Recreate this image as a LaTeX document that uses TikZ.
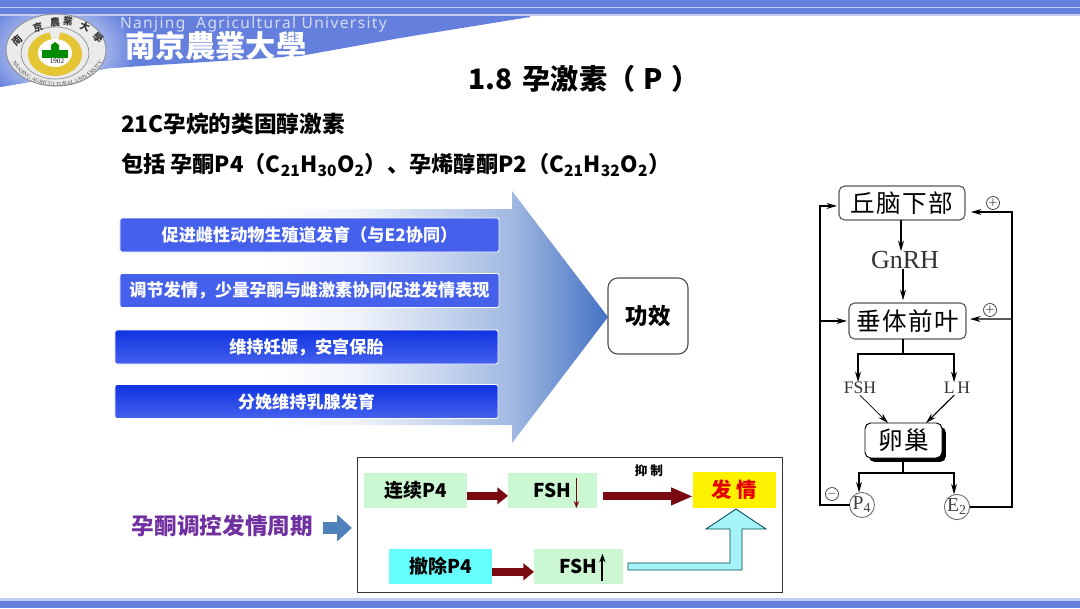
\documentclass[tikz,border=0pt]{standalone}
\usepackage{fontspec}
\setmainfont{Noto Sans CJK SC}
\newfontfamily\serifcn[LetterSpace=6]{Noto Sans CJK SC}
\newfontfamily\timesfont{Liberation Serif}
\newfontfamily\latinhead[LetterSpace=9]{Noto Sans}
\newfontfamily\tccn{Noto Sans CJK TC}
\usepackage{xcolor}
\usepackage{tikz}
\usetikzlibrary{arrows.meta,shadows,decorations.text}
\newcommand{\px}{0.7113pt}
\newcommand{\fsz}[1]{\fontsize{#1}{#1}\selectfont}
\definecolor{bandblue}{HTML}{6480DC}
\definecolor{bandlight}{HTML}{C3CDF2}
\definecolor{bardark}{HTML}{0F33E2}
\definecolor{barmid}{HTML}{4561EC}
\definecolor{fadeblue}{HTML}{4472C4}
\definecolor{palegreen}{HTML}{CBF7D3}
\definecolor{paleaqua}{HTML}{66FFFF}
\definecolor{liftaqua}{HTML}{A5F2F8}
\definecolor{darkred}{HTML}{7A0A12}
\definecolor{ringgray}{HTML}{8A9098}
\definecolor{steelarrow}{HTML}{4F81BD}
\definecolor{labelviolet}{HTML}{7030A0}
\pgfdeclarehorizontalshading{arrowfade}{100bp}{color(0bp)=(white);color(25bp)=(white);color(41bp)=(white);color(50bp)=(fadeblue!8!white);color(58.5bp)=(fadeblue!30!white);color(65.5bp)=(fadeblue!50!white);color(75bp)=(fadeblue);color(100bp)=(fadeblue)}
\tikzset{
  plainbox/.style={inner sep=0pt,outer sep=0pt,align=center},
  barbox/.style={plainbox,draw=white,line width=0.6pt,rounded corners=1.5pt,text=white,font=\fsz{12.2}\bfseries,minimum height=34*\px},
  flatbar/.style={barbox,top color=barmid,bottom color=barmid,minimum width=379*\px},
  deepbar/.style={barbox,top color=bardark,bottom color=barmid,minimum width=383*\px},
  cyclebox/.style={plainbox,font=\fsz{13.5}\bfseries,minimum width=103*\px,minimum height=35.5*\px},
  fshbox/.style={cyclebox,fill=palegreen,minimum width=89*\px},
  axisbox/.style={plainbox,draw=black!65,line width=0.8pt,rounded corners=4pt,font=\serifcn\fsz{17.5}},
  hormone/.style={plainbox,text=black!80,font=\timesfont},
  gland/.style={plainbox,circle,draw=black!60,line width=0.6pt,minimum size=25*\px,text=black!75,font=\timesfont\fsz{14}},
  signmark/.style={plainbox,circle,draw=black!80,line width=0.5pt,minimum size=13*\px,font=\fsz{8}},
  reddart/.style={draw=darkred,line width=5.7pt,-{Triangle[length=#1,width=11.6pt]}},
  axisline/.style={draw=black,line width=0.8pt},
  axisarrow/.style={axisline,-{Stealth[length=7.5pt,width=4.2pt]}}
}
\begin{document}
\begin{tikzpicture}[x=0.025cm,y=-0.025cm,line cap=butt]
\useasboundingbox (0,0) rectangle (1080,608);
\fill[white] (0,0) rectangle (1080,608);
% header
\begin{scope}
\clip (0,87) -- (0,14) -- (530,14) -- (530,17) -- (400,38) -- (300,56) -- (110,68) -- cycle;
\fill[bandblue] (0,0) rectangle (540,90);
\shade[inner color=white,outer color=bandblue] (58,50) ellipse (78 and 58);
\end{scope}
\fill[bandblue] (0,0) rectangle (1080,14);
\fill[bandlight] (0,6.5) rectangle (1080,8);
\fill[bandlight] (0,14) rectangle (1080,16);
\fill[bandlight] (0,598) rectangle (1080,600.5);
\fill[bandblue] (0,600.5) rectangle (1080,608);
% emblem
\fill[white!92!black,draw=ringgray,line width=0.7pt] (56,50) ellipse (50 and 36);
\draw[ringgray,line width=0.5pt] (55,53) ellipse (34 and 26);
\fill[yellow!55!brown] (55,54) ellipse (27 and 22);
\fill[white!92!black] (49,30) -- (61,30) -- (58,40) -- (52,40) -- cycle;
\fill[white] (55,53) ellipse (17 and 14);
\fill[green!55!black] (42,58) rectangle (68,50);
\fill[green!55!black] (51,50) -- (51,45) -- (55,42) -- (59,45) -- (59,50) -- cycle;
\node[plainbox,font=\timesfont\fsz{5}] (emblemyear) at (57,61.5) {1902};
\foreach \cx/\cy/\ca/\ct in {17/40/40/南,38/27/18/京,55/22/4/農,68/21/-6/業,85/27/-20/大,98/38/-40/學}
  \node[plainbox,rotate=\ca,text=black!80,font=\tccn\fsz{7}\bfseries] at (\cx,\cy) {\ct};
\path[decorate,decoration={text along path,text align=center,
  text={|\timesfont\fsz{4.1}\color{black!70}|NANJING AGRICULTURAL UNIVERSITY}}]
  (9,54) .. controls (22,97) and (92,97) .. (106,54);
\node[plainbox,anchor=west,text=bandlight!70!white,font=\latinhead\fsz{11}\bfseries] (nauen) at (120,24) {Nanjing\ \ Agricultural University};
\node[plainbox,anchor=west,text=white,font=\tccn\fsz{21.5}\bfseries] (naucn) at (125,46) {南京農業大學};
% headings
\node[plainbox,anchor=west,font=\fsz{20}\bfseries] (title) at (468,79) {1.8\hspace{3pt} 孕激素（\hspace{6pt}P\hspace{6pt}）};
\node[plainbox,anchor=west,font=\fsz{16.1}\bfseries] (introA) at (121,124) {21C孕烷的类固醇激素};
\node[plainbox,anchor=west,font=\fsz{15.8}\bfseries] (introB) at (121,165) {包括 孕酮P4（C\textsubscript{21}H\textsubscript{30}O\textsubscript{2}）、孕烯醇酮P2（C\textsubscript{21}H\textsubscript{32}O\textsubscript{2}）};
% big arrow and bars
\shade[shading=arrowfade] (100,209) -- (512,209) -- (512,191) -- (608,317) -- (512,443) -- (512,425) -- (100,425) -- cycle;
\node[flatbar] (barA) at (309.5,235) {促进雌性动物生殖道发育（与E2协同）};
\node[flatbar] (barB) at (309.5,290.5) {调节发情，少量孕酮与雌激素协同促进发情表现};
\node[deepbar] (barC) at (306.5,347) {维持妊娠，安宫保胎};
\node[deepbar] (barD) at (306.5,401.5) {分娩维持乳腺发育};
\node[plainbox,draw=black!70,line width=0.8pt,fill=white,rounded corners=7pt,minimum width=80*\px,minimum height=76*\px,font=\fsz{16}\bfseries] (effect) at (648,316) {功效};
% estrus cycle panel
\node[plainbox,draw=black!80,line width=0.7pt,fill=white,minimum width=424*\px,minimum height=135*\px] (panel) at (570,524.5) {};
\node[plainbox,text=labelviolet,font=\fsz{16.1}\bfseries] (cyclelabel) at (222.5,526) {孕酮调控发情周期};
\draw[draw=steelarrow,line width=9.2pt,-{Triangle[length=10.5pt,width=18.5pt]}] ([xshift=7pt,yshift=-1.4pt]cyclelabel.east) -- ([xshift=-4.3pt,yshift=-1.4pt]cyclelabel.east -| panel.west);
\node[cyclebox,fill=palegreen] (keepP) at (415.5,490.5) {连续P4};
\node[fshbox] (fshlow) at (552.5,490.5) {FSH};
\node[cyclebox,fill=yellow,text=red!90!black,minimum width=83*\px,font=\fsz{14.5}\bfseries] (estrus) at (734.5,490) {发 情};
\node[cyclebox,fill=paleaqua] (dropP) at (440.5,566.5) {撤除P4};
\node[fshbox] (fshhigh) at (578.5,566.5) {FSH};
\node[plainbox,font=\fsz{9}\bfseries] (inhibit) at (649,471) {抑 制};
\draw[reddart=7.5pt] ([yshift=-3.8pt]keepP.east) -- ([yshift=-3.8pt]keepP.east -| fshlow.west);
\draw[reddart=15.5pt] ([xshift=4.3pt,yshift=-4.2pt]fshlow.east) -- ([yshift=-4.2pt]fshlow.east -| estrus.west);
\draw[reddart=7.5pt] ([yshift=-3.8pt]dropP.east) -- ([yshift=-3.8pt]dropP.east -| fshhigh.west);
\draw[darkred,line width=1.1pt,-{Stealth[length=5pt,width=3.8pt]}] ([xshift=17pt,yshift=9pt]fshlow.center) -- ([xshift=17pt,yshift=-12.5pt]fshlow.center);
\draw[black,line width=1.3pt,-{Stealth[length=6pt,width=4.4pt]}] ([xshift=17pt,yshift=-10pt]fshhigh.center) -- ([xshift=17pt,yshift=9pt]fshhigh.center);
\filldraw[fill=liftaqua,draw=teal!60!black,line width=0.6pt] (628,563) -- (730,563) -- (730,529) -- (706,529) -- (736,509) -- (766,529) -- (742,529) -- (742,570) -- (628,570) -- cycle;
% hormone axis
\node[axisbox,minimum width=126*\px,minimum height=34*\px] (hypo) at (902,203) {丘脑下部};
\node[hormone,font=\timesfont\fsz{18.5}] (gnrh) at (905,260) {GnRH};
\node[axisbox,minimum width=117*\px,minimum height=36*\px] (pit) at (907.5,321) {垂体前叶};
\node[hormone,font=\timesfont\fsz{12.5}] (fsh) at (860,388) {FSH};
\node[hormone,font=\timesfont\fsz{12.5}] (lh) at (957,388) {L\,H};
\node[plainbox,draw=black,line width=0.7pt,fill=white,rounded corners=4pt,minimum width=77*\px,minimum height=35*\px,font=\serifcn\fsz{17.5},
  drop shadow={shadow xshift=2.8pt,shadow yshift=-2.8pt,opacity=1,fill=black}] (ovary) at (903.5,440.5) {卵巢};
\node[gland] (pfour) at (862,505) {P\textsubscript{4}};
\node[gland] (etwo) at (957,507) {E\textsubscript{2}};
\node[signmark] (plushypo) at (993,203) {$+$};
\node[signmark] (pluspit) at (990,310) {$+$};
\node[signmark] (minusp) at (832,494) {$-$};
\coordinate (railL) at (820,321);
\coordinate (railR) at (1012,319);
\coordinate (splitpit) at (903,354);
\coordinate (splitovary) at (903,473);
\draw[axisarrow] ([xshift=-0.7pt]hypo.south) -- ([xshift=-0.7pt]hypo.south |- gnrh.north);
\draw[axisarrow] ([xshift=-1.4pt]gnrh.south) -- ([xshift=-1.4pt,yshift=2pt]gnrh.south |- pit.north);
\draw[axisline] (pit.south -| splitpit) -- (splitpit);
\draw[axisarrow] (splitpit) -| ([xshift=-1.4pt]fsh.north);
\draw[axisarrow] (splitpit) -| ([xshift=-2.1pt]lh.north);
\draw[axisline,-{Stealth[length=7.5pt,width=4.2pt]},line width=0.5pt] ([yshift=-1pt]fsh.south) -- ([xshift=-11pt]ovary.north);
\draw[axisarrow] ([xshift=-2pt,yshift=-1pt]lh.south) -- ([xshift=16pt]ovary.north);
\draw[axisline] (ovary.south -| splitovary) -- (splitovary);
\draw[axisarrow] (splitovary) -| ([xshift=-2.1pt]pfour.north);
\draw[axisarrow] (splitovary) -| ([xshift=-2.1pt]etwo.north);
\draw[axisarrow] (pfour.west) -| (railL) |- ([xshift=-1.4pt,yshift=-2.1pt]hypo.west);
\draw[axisarrow] (railL) -- ([xshift=-1.4pt]pit.west);
\draw[axisarrow] (etwo.east) -| (railR) |- ([xshift=4.2pt,yshift=-6.4pt]hypo.east);
\draw[axisarrow] (railR) -- ([xshift=2.8pt,yshift=1.4pt]pit.east);
\end{tikzpicture}
\end{document}
